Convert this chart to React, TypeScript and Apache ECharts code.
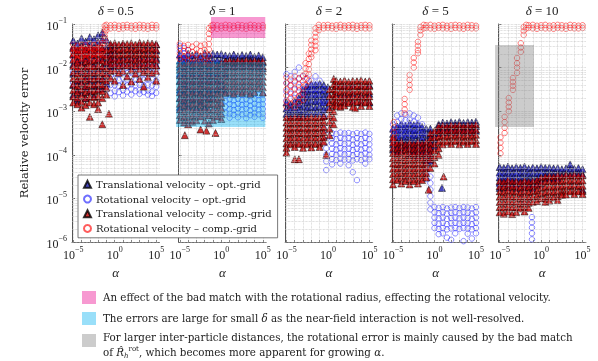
import React, { useEffect, useRef } from "react";
import * as echarts from "echarts";

type Col = [number, number[]];

// x = log10(alpha), y = log10(relative velocity error)
const deltaLabels = ["0.5", "1", "2", "5", "10"];
const seriesNames = [
  "Translational velocity – opt.-grid",
  "Rotational velocity – opt.-grid",
  "Translational velocity – comp.-grid",
  "Rotational velocity – comp.-grid",
];
const xTickExps = [-5, 0, 5];
const xMinorExps = [-5, -4, -3, -2, -1, 0, 1, 2, 3, 4, 5];

// ---------- delta = 0.5 ----------
const p1TransOpt: Col[] = [
  [-5, [-1.38, -1.52, -1.7, -1.92, -2.14, -2.4, -2.62]],
  [-4.5, [-1.45, -1.62, -1.84, -2.05, -2.3, -2.52, -2.75]],
  [-4, [-1.33, -1.48, -1.66, -1.88, -2.1, -2.33, -2.58]],
  [-3.5, [-1.4, -1.58, -1.78, -2.0, -2.22, -2.46, -2.7]],
  [-3, [-1.3, -1.46, -1.64, -1.86, -2.08, -2.3, -2.55]],
  [-2.5, [-1.35, -1.52, -1.72, -1.95, -2.18, -2.42, -2.65]],
  [-2, [-1.26, -1.42, -1.6, -1.82, -2.04, -2.28, -2.5]],
  [-1.5, [-1.2, -1.36, -1.56, -1.78, -2.0, -2.24, -2.48]],
  [-1, [-1.36, -1.52, -1.7, -1.9, -2.12, -2.36]],
  [-0.5, [-1.5, -1.64, -1.8, -1.98]],
  [0, [-1.48, -1.62, -1.78, -1.95]],
  [1, [-1.47, -1.6, -1.76, -1.94]],
  [2, [-1.5, -1.64, -1.8, -1.97]],
  [3, [-1.46, -1.6, -1.77, -1.95]],
  [4, [-1.49, -1.63, -1.79, -1.96]],
  [5, [-1.47, -1.61, -1.78, -1.94]],
];
const p1RotOpt: Col[] = [
  [-5, [-1.6, -1.85, -2.1, -2.35]],
  [-4, [-1.65, -1.9, -2.15, -2.42]],
  [-3, [-1.58, -1.82, -2.08, -2.3]],
  [-2, [-1.62, -1.88, -2.12, -2.38]],
  [-1, [-1.7, -1.95, -2.2, -2.45]],
  [-0.5, [-1.8, -1.98, -2.18, -2.4, -2.58]],
  [0, [-1.85, -1.98, -2.12, -2.26, -2.4, -2.54, -2.66]],
  [0.5, [-1.88, -2.0, -2.14, -2.28, -2.42, -2.56]],
  [1, [-1.84, -1.97, -2.1, -2.24, -2.38, -2.52, -2.64]],
  [1.5, [-1.87, -2.0, -2.13, -2.27, -2.41, -2.55]],
  [2, [-1.83, -1.96, -2.1, -2.24, -2.38, -2.5, -2.62]],
  [2.5, [-1.86, -1.99, -2.12, -2.26, -2.4, -2.54]],
  [3, [-1.84, -1.97, -2.11, -2.25, -2.39, -2.52, -2.6]],
  [3.5, [-1.88, -2.01, -2.14, -2.28, -2.42, -2.56]],
  [4, [-1.85, -1.98, -2.12, -2.26, -2.4, -2.53, -2.62]],
  [4.5, [-1.87, -2.0, -2.13, -2.27, -2.41, -2.55, -2.65]],
  [5, [-1.9, -2.03, -2.16, -2.3, -2.44, -2.58]],
];
const p1TransComp: Col[] = [
  [-5, [-1.55, -1.68, -1.82, -1.96, -2.1, -2.24, -2.38, -2.52, -2.66, -2.8]],
  [-4.5, [-1.6, -1.73, -1.87, -2.0, -2.14, -2.28, -2.42, -2.56, -2.7, -2.84]],
  [-4, [-1.52, -1.66, -1.8, -1.94, -2.08, -2.22, -2.36, -2.5, -2.64, -2.78, -2.92]],
  [-3.5, [-1.58, -1.72, -1.86, -2.0, -2.14, -2.28, -2.42, -2.56, -2.7, -2.86]],
  [-3, [-1.54, -1.68, -1.82, -1.96, -2.1, -2.24, -2.38, -2.52, -2.66, -2.8, -3.13]],
  [-2.5, [-1.57, -1.7, -1.84, -1.98, -2.12, -2.26, -2.4, -2.54, -2.68, -2.84]],
  [-2, [-1.53, -1.67, -1.81, -1.95, -2.09, -2.23, -2.37, -2.51, -2.65, -2.8, -2.95]],
  [-1.5, [-1.56, -1.7, -1.84, -1.98, -2.12, -2.26, -2.4, -2.54, -2.7, -3.3]],
  [-1, [-1.6, -1.74, -1.88, -2.02, -2.16, -2.3, -2.46, -2.62]],
  [-0.7, [-3.06]],
  [-0.5, [-1.46, -1.58, -1.7, -1.82, -1.94, -2.08, -2.24]],
  [0, [-1.44, -1.56, -1.68, -1.8, -1.92, -2.06, -2.3]],
  [0.5, [-1.47, -1.59, -1.71, -1.83, -1.96, -2.12]],
  [1, [-1.45, -1.57, -1.69, -1.81, -1.93, -2.08, -2.4]],
  [1.5, [-1.46, -1.58, -1.7, -1.82, -1.95, -2.2]],
  [2, [-1.44, -1.56, -1.68, -1.8, -1.92, -2.05, -2.32]],
  [2.5, [-1.47, -1.59, -1.71, -1.83, -1.96, -2.14]],
  [3, [-1.43, -1.55, -1.67, -1.79, -1.91, -2.04, -2.26]],
  [3.5, [-1.46, -1.58, -1.7, -1.82, -1.95, -2.1, -2.44]],
  [4, [-1.44, -1.56, -1.68, -1.8, -1.92, -2.06, -2.22]],
  [4.5, [-1.45, -1.57, -1.69, -1.81, -1.94, -2.12]],
  [5, [-1.46, -1.58, -1.7, -1.82, -1.95, -2.08, -2.3]],
];
const p1RotComp: Col[] = [
  [-5, [-1.47, -1.57, -1.67, -1.77]],
  [-4.5, [-1.5, -1.6, -1.7, -1.8, -2.0]],
  [-4, [-1.48, -1.58, -1.68, -1.76]],
  [-3.5, [-1.49, -1.59, -1.69, -1.78]],
  [-3, [-1.46, -1.56, -1.66, -1.75, -1.98]],
  [-2.5, [-1.48, -1.58, -1.68, -1.77]],
  [-2, [-1.45, -1.55, -1.65, -1.74]],
  [-1.5, [-1.44, -1.54, -1.64, -1.72]],
  [-1.2, [-1.04, -1.12, -1.2, -1.28, -1.36, -1.44]],
  [-1, [-1.02, -1.08, -1.14]],
  [-0.5, [-1.03, -1.1]],
  [0, [-1.02, -1.09]],
  [0.5, [-1.04, -1.11]],
  [1, [-1.03, -1.1]],
  [1.5, [-1.02, -1.08]],
  [2, [-1.04, -1.1]],
  [2.5, [-1.03, -1.11]],
  [3, [-1.02, -1.09]],
  [3.5, [-1.03, -1.1]],
  [4, [-1.04, -1.11]],
  [4.5, [-1.02, -1.09]],
  [5, [-1.03, -1.1]],
];

// ---------- delta = 1 ----------
const p2TransOpt: Col[] = [
  [-5, [-1.7, -1.84, -1.98, -2.14, -2.3, -2.5, -2.7, -2.9]],
  [-4.5, [-1.75, -1.88, -2.02, -2.18, -2.36, -2.56, -2.76]],
  [-4, [-1.68, -1.82, -1.96, -2.12, -2.3, -2.48, -2.68, -2.88]],
  [-3.5, [-1.72, -1.86, -2.0, -2.16, -2.34, -2.54, -2.74]],
  [-3, [-1.69, -1.83, -1.97, -2.13, -2.31, -2.5, -2.7, -2.92]],
  [-2.5, [-1.74, -1.88, -2.02, -2.18, -2.36, -2.56, -2.78]],
  [-2, [-1.67, -1.81, -1.95, -2.11, -2.29, -2.48, -2.68, -2.9]],
  [-1.5, [-1.71, -1.85, -1.99, -2.15, -2.33, -2.52, -2.72]],
  [-1, [-1.68, -1.82, -1.96, -2.12, -2.3, -2.5, -2.7]],
  [-0.5, [-1.7, -1.84, -1.98, -2.14, -2.32, -2.5]],
  [0, [-1.69, -1.83, -1.97, -2.13, -2.3, -2.5]],
  [0.3, [-2.5]],
  [0.5, [-1.72, -1.86, -2.0, -2.16]],
  [1, [-1.73, -1.85, -1.98]],
  [1.5, [-1.7, -1.83, -1.96]],
  [2, [-1.74, -1.86, -1.99]],
  [2.5, [-1.71, -1.84, -1.97]],
  [3, [-1.73, -1.85, -1.98]],
  [3.5, [-1.7, -1.82, -1.95]],
  [4, [-1.75, -1.87, -2.0]],
  [4.5, [-1.72, -1.84, -1.97]],
  [5, [-1.76, -1.88, -2.01]],
];
const p2RotOpt: Col[] = [
  [-5, [-1.5, -1.62, -1.76, -2.2, -2.6, -3.0]],
  [-4.5, [-1.55, -1.68, -1.8, -2.4, -2.8]],
  [-4, [-1.6, -1.74, -2.1, -2.5, -2.9]],
  [-3, [-2.2, -2.6, -3.05]],
  [-2, [-2.3, -2.7, -3.1]],
  [-1, [-2.25, -2.65, -3.0]],
  [0, [-2.4, -2.8, -3.1]],
  [0.5, [-2.64, -2.76, -2.9, -3.04]],
  [1, [-2.62, -2.73, -2.84, -2.95, -3.06, -3.15]],
  [1.5, [-2.64, -2.75, -2.86, -2.97, -3.08]],
  [2, [-2.61, -2.72, -2.83, -2.94, -3.05, -3.14]],
  [2.5, [-2.63, -2.74, -2.85, -2.96, -3.07]],
  [3, [-2.62, -2.73, -2.84, -2.95, -3.06, -3.16]],
  [3.5, [-2.65, -2.76, -2.87, -2.98, -3.09]],
  [4, [-2.61, -2.72, -2.83, -2.94, -3.05, -3.13]],
  [4.5, [-2.63, -2.74, -2.85, -2.96, -3.07]],
  [5, [-2.62, -2.73, -2.84, -2.95, -3.06, -3.15]],
];
const p2TransComp: Col[] = [
  [-5, [-1.92, -2.05, -2.18, -2.31, -2.44, -2.57, -2.7, -2.83, -2.96, -3.09, -3.2]],
  [-4.5, [-1.96, -2.09, -2.22, -2.35, -2.48, -2.61, -2.74, -2.87, -3.0, -3.13, -3.26]],
  [-4.4, [-3.55]],
  [-4, [-1.9, -2.03, -2.16, -2.29, -2.42, -2.55, -2.68, -2.81, -2.94, -3.07, -3.2, -3.3]],
  [-3.5, [-1.94, -2.07, -2.2, -2.33, -2.46, -2.59, -2.72, -2.85, -2.98, -3.11, -3.24]],
  [-3, [-1.91, -2.04, -2.17, -2.3, -2.43, -2.56, -2.69, -2.82, -2.95, -3.08, -3.21]],
  [-2.5, [-1.95, -2.08, -2.21, -2.34, -2.47, -2.6, -2.73, -2.86, -2.99, -3.12, -3.42]],
  [-2, [-1.9, -2.03, -2.16, -2.29, -2.42, -2.55, -2.68, -2.81, -2.94, -3.07, -3.22]],
  [-1.8, [-3.45]],
  [-1.5, [-1.93, -2.06, -2.19, -2.32, -2.45, -2.58, -2.71, -2.84, -2.97, -3.1, -3.28]],
  [-1, [-1.92, -2.05, -2.18, -2.31, -2.44, -2.57, -2.7, -2.83, -2.96, -3.09, -3.2]],
  [-0.7, [-3.5]],
  [-0.5, [-1.95, -2.08, -2.21, -2.34, -2.47, -2.6, -2.73, -2.86, -2.99, -3.12]],
  [0, [-1.9, -2.03, -2.16, -2.29, -2.42, -2.55, -2.68, -2.81, -2.94, -3.07, -3.18]],
  [0.5, [-1.86, -1.98, -2.1, -2.22, -2.34, -2.46, -2.58]],
  [1, [-1.84, -1.96, -2.08, -2.2, -2.32, -2.44, -2.56]],
  [1.5, [-1.87, -1.99, -2.11, -2.23, -2.35, -2.47, -2.6]],
  [2, [-1.84, -1.96, -2.08, -2.2, -2.32, -2.44, -2.55]],
  [2.5, [-1.86, -1.98, -2.1, -2.22, -2.34, -2.46, -2.58]],
  [3, [-1.83, -1.95, -2.07, -2.19, -2.31, -2.43, -2.55]],
  [3.5, [-1.86, -1.98, -2.1, -2.22, -2.34, -2.46, -2.6]],
  [4, [-1.84, -1.96, -2.08, -2.2, -2.32, -2.44, -2.56]],
  [4.5, [-1.87, -1.99, -2.11, -2.23, -2.35, -2.47]],
  [5, [-1.85, -1.97, -2.09, -2.21, -2.33, -2.45, -2.57]],
];
const p2RotComp: Col[] = [
  [-5, [-1.45, -1.55, -1.68, -1.8]],
  [-4.5, [-1.5, -1.62, -1.75]],
  [-4, [-1.48, -1.6, -1.72, -1.85]],
  [-3.5, [-1.52, -1.64, -1.78]],
  [-3, [-1.46, -1.58, -1.7, -1.88]],
  [-2.5, [-1.5, -1.62, -1.76]],
  [-2, [-1.47, -1.6, -1.72, -1.85]],
  [-1.5, [-1.1, -1.22, -1.34, -1.46, -1.58, -1.72, -1.88]],
  [-1.2, [-1.04, -1.13]],
  [-1, [-1.02, -1.09]],
  [-0.5, [-1.03, -1.11]],
  [0, [-1.04, -1.1]],
  [0.5, [-1.02, -1.09]],
  [1, [-1.03, -1.11]],
  [1.5, [-1.04, -1.1]],
  [2, [-1.02, -1.08]],
  [2.5, [-1.03, -1.1]],
  [3, [-1.04, -1.11]],
  [3.5, [-1.02, -1.09]],
  [4, [-1.03, -1.1]],
  [4.5, [-1.04, -1.11]],
  [5, [-1.03, -1.09]],
];

// ---------- delta = 2 ----------
const p3TransOpt: Col[] = [
  [-5, [-2.8, -2.94, -3.06]],
  [-4.5, [-2.85, -2.98, -3.1]],
  [-4, [-2.78, -2.92, -3.05]],
  [-3.5, [-2.7, -2.84, -2.98, -3.1]],
  [-3, [-2.5, -2.62, -2.75, -2.88, -3.0, -3.1]],
  [-2.5, [-2.42, -2.54, -2.67, -2.8, -2.93, -3.06]],
  [-2, [-2.38, -2.5, -2.63, -2.76, -2.9, -3.03]],
  [-1.5, [-2.4, -2.52, -2.65, -2.78, -2.92, -3.06]],
  [-1, [-2.37, -2.5, -2.62, -2.75, -2.88, -3.02]],
  [-0.5, [-2.4, -2.53, -2.66, -2.8, -2.95, -3.1]],
  [0, [-2.45, -2.6, -2.75, -2.9]],
  [1, [-2.4, -2.6, -2.8]],
  [2, [-2.42, -2.62, -2.8]],
  [3, [-2.4, -2.6, -2.78]],
  [4, [-2.43, -2.63, -2.8]],
  [5, [-2.4, -2.6, -2.8]],
];
const p3RotOpt: Col[] = [
  [-5, [-2.15, -2.35, -2.55, -2.75]],
  [-4.5, [-2.2, -2.4, -2.6]],
  [-4, [-2.1, -2.3, -2.5, -2.7]],
  [-3.5, [-2.0, -2.25, -2.45, -2.65]],
  [-3, [-2.2, -2.4, -2.6]],
  [-2.5, [-2.25, -2.45]],
  [-2, [-2.3, -2.5]],
  [-1.5, [-2.2, -2.4, -2.6]],
  [-1, [-2.3, -2.55, -2.8]],
  [-0.5, [-2.5, -2.8, -3.1, -3.4]],
  [-0.2, [-3.55, -3.7, -3.85, -4.0, -4.15, -4.35]],
  [0.5, [-3.5, -3.62, -3.74, -3.86, -3.98, -4.1, -4.22]],
  [1, [-3.52, -3.64, -3.76, -3.88, -4.0, -4.12]],
  [1.5, [-3.49, -3.61, -3.73, -3.85, -3.97, -4.09, -4.2]],
  [2, [-3.51, -3.63, -3.75, -3.87, -3.99, -4.11]],
  [2.5, [-3.5, -3.62, -3.74, -3.86, -3.98, -4.1, -4.24]],
  [3, [-3.53, -3.65, -3.77, -3.89, -4.01, -4.13, -4.4]],
  [3.5, [-3.5, -3.62, -3.74, -3.86, -3.98, -4.1, -4.58]],
  [4, [-3.52, -3.64, -3.76, -3.88, -4.0, -4.12]],
  [4.5, [-3.49, -3.61, -3.73, -3.85, -3.97, -4.09, -4.2]],
  [5, [-3.52, -3.64, -3.76, -3.88, -4.0, -4.1]],
];
const p3TransComp: Col[] = [
  [-5, [-3.14, -3.26, -3.38, -3.5, -3.62, -3.74, -3.84, -3.95]],
  [-4.5, [-3.16, -3.28, -3.4, -3.52, -3.64, -3.76]],
  [-4, [-3.13, -3.25, -3.37, -3.49, -3.61, -3.73, -3.82, -4.1]],
  [-3.5, [-3.15, -3.27, -3.39, -3.51, -3.63, -3.75, -4.1]],
  [-3, [-3.14, -3.26, -3.38, -3.5, -3.62, -3.74, -3.84]],
  [-2.5, [-3.16, -3.28, -3.4, -3.52, -3.64, -3.76]],
  [-2, [-3.13, -3.25, -3.37, -3.49, -3.61, -3.73, -3.83]],
  [-1.5, [-3.15, -3.27, -3.39, -3.51, -3.63, -3.75]],
  [-1, [-3.14, -3.26, -3.38, -3.5, -3.62, -3.74, -3.82]],
  [-0.5, [-3.12, -3.24, -3.36, -3.48, -3.6, -3.7]],
  [-0.2, [-4.0]],
  [0.2, [-2.5, -2.65, -2.8, -2.95, -3.1, -3.25, -3.4, -3.55]],
  [0.7, [-2.26, -2.38, -2.5, -2.62, -2.74, -2.86, -3.0, -3.15, -3.3]],
  [1, [-2.3, -2.42, -2.54, -2.66, -2.78, -2.88]],
  [1.5, [-2.32, -2.44, -2.56, -2.68, -2.8, -2.9]],
  [2, [-2.29, -2.41, -2.53, -2.65, -2.77, -2.87]],
  [2.5, [-2.33, -2.45, -2.57, -2.69, -2.81]],
  [3, [-2.3, -2.42, -2.54, -2.66, -2.78, -2.9]],
  [3.3, [-2.93]],
  [3.5, [-2.31, -2.43, -2.55, -2.67, -2.79]],
  [4, [-2.29, -2.41, -2.53, -2.65, -2.77, -2.88]],
  [4.5, [-2.32, -2.44, -2.56, -2.68, -2.8]],
  [5, [-2.3, -2.42, -2.54, -2.66, -2.78, -2.88]],
];
const p3RotComp: Col[] = [
  [-5, [-2.22, -2.36, -2.5, -2.64, -2.78, -2.9]],
  [-4.5, [-2.28, -2.42, -2.56, -2.7, -2.84]],
  [-4, [-2.2, -2.34, -2.48, -2.62, -2.76, -2.9]],
  [-3.5, [-2.25, -2.39, -2.53, -2.67, -2.8]],
  [-3, [-2.18, -2.32, -2.46, -2.6, -2.74]],
  [-2.7, [-1.9, -2.02, -2.14, -2.26, -2.4]],
  [-2.3, [-1.68, -1.8, -1.92, -2.04, -2.16, -2.3]],
  [-2, [-1.38, -1.48, -1.58, -1.68, -1.76]],
  [-1.5, [-1.1, -1.2, -1.3, -1.4, -1.5, -1.6]],
  [-1.1, [-1.02, -1.08, -1.14]],
  [-0.5, [-1.03, -1.1]],
  [0, [-1.02, -1.09]],
  [0.5, [-1.04, -1.1]],
  [1, [-1.03, -1.11]],
  [1.5, [-1.02, -1.08]],
  [2, [-1.04, -1.1]],
  [2.5, [-1.03, -1.09]],
  [3, [-1.02, -1.1]],
  [3.5, [-1.04, -1.11]],
  [4, [-1.03, -1.09]],
  [4.5, [-1.02, -1.1]],
  [5, [-1.03, -1.1]],
];

// ---------- delta = 5 ----------
const p4TransOpt: Col[] = [
  [-5, [-3.4, -3.52, -3.64, -3.76, -3.88]],
  [-4.5, [-3.35, -3.47, -3.59, -3.71, -3.83, -3.95]],
  [-4, [-3.3, -3.42, -3.54, -3.66, -3.78, -3.9]],
  [-3.5, [-3.34, -3.46, -3.58, -3.7, -3.82]],
  [-3, [-3.28, -3.4, -3.52, -3.64, -3.76, -3.88, -4.0]],
  [-2.5, [-3.32, -3.44, -3.56, -3.68, -3.8, -3.92]],
  [-2, [-3.3, -3.42, -3.54, -3.66, -3.78, -3.9, -4.02]],
  [-1.5, [-3.36, -3.48, -3.6, -3.72, -3.84, -3.96]],
  [-1, [-3.4, -3.52, -3.64, -3.76, -3.88, -4.0, -4.12]],
  [-0.5, [-3.4, -3.55, -3.7, -3.85, -4.0, -4.15]],
  [0, [-3.5, -3.65, -3.8]],
  [0.9, [-4.76]],
  [0.5, [-3.3, -3.4, -3.5]],
  [1, [-3.26, -3.36, -3.47]],
  [1.5, [-3.28, -3.38, -3.48]],
  [2, [-3.25, -3.35, -3.46]],
  [2.5, [-3.27, -3.37, -3.48]],
  [3, [-3.24, -3.34, -3.45]],
  [3.5, [-3.27, -3.37, -3.47]],
  [4, [-3.25, -3.35, -3.46]],
  [4.5, [-3.26, -3.36, -3.48]],
  [5, [-3.24, -3.34, -3.45]],
];
const p4RotOpt: Col[] = [
  [-5, [-3.3, -3.45]],
  [-4.5, [-3.1, -3.25, -3.4, -3.55]],
  [-4, [-3.05, -3.18, -3.32, -3.46, -3.6]],
  [-3.5, [-3.08, -3.2, -3.35, -3.5]],
  [-3, [-3.05, -3.2, -3.36, -3.52]],
  [-2.5, [-3.1, -3.24, -3.4, -3.56]],
  [-2, [-3.15, -3.3, -3.45]],
  [-1.5, [-3.3, -3.5, -3.7, -3.9]],
  [-1, [-3.95, -4.1, -4.25, -4.4, -4.55]],
  [-0.5, [-4.5, -4.65, -4.8, -4.95, -5.1, -5.25]],
  [0, [-5.2, -5.32, -5.44, -5.56, -5.68]],
  [0.5, [-5.22, -5.34, -5.46, -5.58, -5.7, -5.82]],
  [1, [-5.2, -5.32, -5.44, -5.56, -5.68, -5.8]],
  [1.5, [-5.23, -5.35, -5.47, -5.59, -5.71, -5.9]],
  [2, [-5.21, -5.33, -5.45, -5.57, -5.69, -5.95]],
  [2.5, [-5.2, -5.32, -5.44, -5.56, -5.68, -5.8]],
  [3, [-5.22, -5.34, -5.46, -5.58, -5.7]],
  [3.5, [-5.2, -5.32, -5.44, -5.56, -5.68, -5.98]],
  [4, [-5.21, -5.33, -5.45, -5.57, -5.69, -5.81]],
  [4.5, [-5.23, -5.35, -5.47, -5.59, -5.71, -5.92]],
  [5, [-5.2, -5.32, -5.44, -5.56, -5.68, -5.8]],
];
const p4TransComp: Col[] = [
  [-5, [-3.6, -3.72, -3.84, -3.96, -4.08, -4.2, -4.32, -4.44, -4.56, -4.68]],
  [-4.5, [-3.74, -3.86, -3.98, -4.1, -4.22, -4.34, -4.46, -4.58]],
  [-4, [-3.7, -3.82, -3.94, -4.06, -4.18, -4.3, -4.42, -4.54, -4.66]],
  [-3.5, [-3.76, -3.88, -4.0, -4.12, -4.24, -4.36, -4.48, -4.6]],
  [-3, [-3.72, -3.84, -3.96, -4.08, -4.2, -4.32, -4.44, -4.56, -4.68]],
  [-2.5, [-3.75, -3.87, -3.99, -4.11, -4.23, -4.35, -4.47, -4.6]],
  [-2, [-3.71, -3.83, -3.95, -4.07, -4.19, -4.31, -4.43, -4.55, -4.66]],
  [-1.5, [-3.74, -3.86, -3.98, -4.1, -4.22, -4.34, -4.46, -4.58]],
  [-1, [-3.7, -3.82, -3.94, -4.06, -4.18, -4.3, -4.42, -4.52]],
  [-0.7, [-4.8]],
  [-0.5, [-3.5, -3.62, -3.74, -3.86, -3.98, -4.1, -4.3]],
  [0, [-3.45, -3.6, -3.75, -3.9, -4.05, -4.2]],
  [0.5, [-3.34, -3.46, -3.58, -3.7, -3.85, -4.0]],
  [1, [-3.32, -3.44, -3.56, -3.68, -3.76]],
  [1.1, [-4.5]],
  [1.5, [-3.34, -3.46, -3.58, -3.7]],
  [2, [-3.31, -3.43, -3.55, -3.67, -3.75]],
  [2.5, [-3.33, -3.45, -3.57, -3.69]],
  [3, [-3.3, -3.42, -3.54, -3.66, -3.76]],
  [3.5, [-3.34, -3.46, -3.58, -3.7]],
  [4, [-3.31, -3.43, -3.55, -3.67, -3.75]],
  [4.5, [-3.33, -3.45, -3.57, -3.69]],
  [5, [-3.3, -3.42, -3.54, -3.66, -3.75]],
];
const p4RotComp: Col[] = [
  [-4.9, [-3.25, -3.37, -3.49, -3.61, -3.73]],
  [-3.6, [-2.72, -2.84, -2.96, -3.05]],
  [-3, [-2.17, -2.28, -2.4, -2.51]],
  [-2.5, [-1.78, -1.88, -2.0]],
  [-2, [-1.41, -1.5, -1.6, -1.67]],
  [-1.7, [-1.07, -1.15, -1.25]],
  [-1.3, [-1.02, -1.1]],
  [-1, [-1.03, -1.09]],
  [-0.5, [-1.02, -1.1]],
  [0, [-1.04, -1.11]],
  [0.5, [-1.03, -1.09]],
  [1, [-1.02, -1.1]],
  [1.5, [-1.04, -1.1]],
  [2, [-1.03, -1.11]],
  [2.5, [-1.02, -1.09]],
  [3, [-1.03, -1.1]],
  [3.5, [-1.04, -1.11]],
  [4, [-1.02, -1.09]],
  [4.5, [-1.03, -1.1]],
  [5, [-1.04, -1.1]],
];

// ---------- delta = 10 ----------
const p5TransOpt: Col[] = [
  [-5, [-4.28, -4.4, -4.52, -4.64, -4.76]],
  [-4.5, [-4.3, -4.42, -4.54, -4.66]],
  [-4, [-4.27, -4.39, -4.51, -4.63, -4.75]],
  [-3.5, [-4.31, -4.43, -4.55, -4.67]],
  [-3, [-4.28, -4.4, -4.52, -4.64, -4.76]],
  [-2.5, [-4.3, -4.42, -4.54, -4.66]],
  [-2, [-4.27, -4.39, -4.51, -4.63, -4.75]],
  [-1.5, [-4.32, -4.44, -4.56, -4.68]],
  [-1, [-4.29, -4.41, -4.53, -4.65, -4.77]],
  [-0.5, [-4.31, -4.43, -4.55, -4.67]],
  [0, [-4.28, -4.4, -4.52, -4.64]],
  [0.5, [-4.3, -4.42, -4.54]],
  [1, [-4.29, -4.41, -4.53]],
  [1.5, [-4.31, -4.43, -4.55]],
  [2, [-4.3, -4.42, -4.54]],
  [2.5, [-4.33, -4.45]],
  [3, [-4.31, -4.43]],
  [3.5, [-4.22, -4.34, -4.46]],
  [4, [-4.32, -4.44]],
  [4.5, [-4.3, -4.42]],
  [5, [-4.33, -4.45, -4.8]],
];
const p5RotOpt: Col[] = [
  [-5, [-4.5, -4.7]],
  [-4, [-4.55, -4.75]],
  [-3, [-4.5, -4.7]],
  [-2.4, [-4.88]],
  [-1.8, [-5.1]],
  [-1.1, [-5.43, -5.55, -5.67, -5.8, -5.94]],
  [0, [-4.5, -4.7]],
  [2, [-4.55, -4.72]],
  [4, [-4.5, -4.7]],
];
const p5TransComp: Col[] = [
  [-5, [-4.6, -4.72, -4.84, -4.96, -5.08, -5.2, -5.32]],
  [-4.5, [-4.62, -4.74, -4.86, -4.98, -5.1, -5.22, -5.35]],
  [-4, [-4.58, -4.7, -4.82, -4.94, -5.06, -5.18, -5.3]],
  [-3.5, [-4.61, -4.73, -4.85, -4.97, -5.09, -5.21, -5.36]],
  [-3, [-4.6, -4.72, -4.84, -4.96, -5.08, -5.2, -5.31]],
  [-2.5, [-4.63, -4.75, -4.87, -4.99, -5.11, -5.23]],
  [-2, [-4.59, -4.71, -4.83, -4.95, -5.07, -5.19, -5.3]],
  [-1.5, [-4.62, -4.74, -4.86, -4.98, -5.1, -5.22]],
  [-1, [-4.6, -4.72, -4.84, -4.96, -5.08]],
  [-0.5, [-4.58, -4.7, -4.82, -4.94, -5.06]],
  [0, [-4.52, -4.64, -4.76, -4.88, -5.0]],
  [0.5, [-4.5, -4.62, -4.74, -4.86, -4.98, -5.08]],
  [1, [-4.48, -4.6, -4.72, -4.84, -4.96, -5.05]],
  [1.5, [-4.5, -4.62, -4.74, -4.86, -4.98]],
  [2, [-4.47, -4.59, -4.71, -4.83, -4.95, -5.04]],
  [2.5, [-4.49, -4.61, -4.73, -4.85, -4.92]],
  [3, [-4.46, -4.58, -4.7, -4.82, -4.91]],
  [3.5, [-4.48, -4.6, -4.72, -4.84]],
  [4, [-4.46, -4.58, -4.7, -4.82, -4.9]],
  [4.5, [-4.48, -4.6, -4.72, -4.84]],
  [5, [-4.47, -4.59, -4.71, -4.83, -4.9]],
];
const p5RotComp: Col[] = [
  [-4.9, [-3.6, -3.72, -3.84, -3.97]],
  [-4.4, [-3.13, -3.25, -3.38, -3.5]],
  [-3.9, [-2.7, -2.8, -2.9, -3.0]],
  [-3.4, [-2.24, -2.33, -2.42, -2.51]],
  [-2.9, [-1.78, -1.9, -2.0, -2.12]],
  [-2.45, [-1.44, -1.54, -1.64]],
  [-2.1, [-1.07, -1.16, -1.25]],
  [-1.8, [-1.02, -1.1]],
  [-1.5, [-1.03, -1.09]],
  [-1, [-1.02, -1.1]],
  [-0.5, [-1.04, -1.11]],
  [0, [-1.03, -1.09]],
  [0.5, [-1.02, -1.1]],
  [1, [-1.04, -1.1]],
  [1.5, [-1.03, -1.11]],
  [2, [-1.02, -1.09]],
  [2.5, [-1.03, -1.1]],
  [3, [-1.04, -1.11]],
  [3.5, [-1.02, -1.09]],
  [4, [-1.03, -1.1]],
  [4.5, [-1.04, -1.1]],
  [5, [-1.03, -1.09]],
];

const panelSets: Col[][][] = [
  [p1TransOpt, p1RotOpt, p1TransComp, p1RotComp],
  [p2TransOpt, p2RotOpt, p2TransComp, p2RotComp],
  [p3TransOpt, p3RotOpt, p3TransComp, p3RotComp],
  [p4TransOpt, p4RotOpt, p4TransComp, p4RotComp],
  [p5TransOpt, p5RotOpt, p5TransComp, p5RotComp],
];

// highlighted regions: panel index, x range (log10 alpha), y range (log10 error)
const highlightPanels = [1, 1, 4];
const highlightX: [number, number][] = [[-1.25, 5.3], [-5.45, 5.3], [-5.55, -0.86]];
const highlightY: [number, number][] = [[-0.84, -1.32], [-1.87, -3.36], [-1.48, -3.36]];
const highlightColors = ["rgba(236,0,140,0.4)", "rgba(0,174,239,0.4)", "rgba(128,128,128,0.4)"];

const noteTexts = [
  "An effect of the bad match with the rotational radius, effecting the rotational velocity.",
  "The errors are large for small {i|δ} as the near-field interaction is not well-resolved.",
  "For larger inter-particle distances, the rotational error is mainly caused by the bad match",
  "of {i|R̂}{sub|h}{sup|rot}, which becomes more apparent for growing {i|α}.",
];

const FONT = "'Liberation Serif', serif";
const FONT2 = "'DejaVu Serif', serif";

const seriesStyles = [
  { symbol: "triangle", symbolSize: 7, itemStyle: { color: "#1c1cb0", borderColor: "#000", borderWidth: 0.6 } },
  { symbol: "circle", symbolSize: 5.5, itemStyle: { color: "rgba(0,0,0,0)", borderColor: "rgba(30,30,255,0.8)", borderWidth: 0.8 } },
  { symbol: "triangle", symbolSize: 7, itemStyle: { color: "#c40000", borderColor: "#000", borderWidth: 0.6 } },
  { symbol: "circle", symbolSize: 5.5, itemStyle: { color: "rgba(0,0,0,0)", borderColor: "rgba(255,0,0,0.8)", borderWidth: 0.8 } },
];

const toPoints = (cols: Col[]) => cols.flatMap(([x, ys]) => ys.map((y) => [x, y]));

const expLabel = (v: number) => `{b|10}{s|${v < 0 ? "−" : ""}${Math.abs(v)}}`;
const expRich = {
  b: { fontSize: 12, fontFamily: FONT, color: "#222", lineHeight: 16, verticalAlign: "bottom" },
  s: { fontSize: 8, fontFamily: FONT, color: "#222", lineHeight: 8, verticalAlign: "top" },
};

export default function App() {
  const ref = useRef<HTMLDivElement>(null);
  useEffect(() => {
    if (!ref.current) return;
    const chart = echarts.init(ref.current, undefined, { renderer: "svg" });
    const left0 = 72;
    const step = 106.6;
    const gw = 87.5;
    const top = 24;
    const gh = 218;

    const hLines: number[] = [];
    for (let n = -6; n <= -2; n++) for (let k = 1; k <= 9; k++) hLines.push(n + Math.log10(k));
    hLines.push(-1);

    const grids = deltaLabels.map((_, i) => ({ left: left0 + i * step, top, width: gw, height: gh }));
    const xAxes = deltaLabels.map((_, i) => ({
      type: "value",
      gridIndex: i,
      min: -5.15,
      max: 5.4,
      name: "α",
      nameLocation: "middle",
      nameGap: 22,
      nameTextStyle: { fontFamily: FONT, fontSize: 13, fontStyle: "italic", color: "#222" },
      axisLine: { show: true, onZero: false, lineStyle: { color: "#555", width: 1 } },
      axisTick: { show: true, inside: true, length: 2, customValues: xMinorExps, lineStyle: { color: "#555" } },
      axisLabel: { show: true, customValues: xTickExps, formatter: expLabel, rich: expRich, margin: 3 },
      splitLine: { show: false },
    }));
    const yAxes = deltaLabels.map((_, i) => ({
      type: "value",
      gridIndex: i,
      min: -6,
      max: -1,
      interval: 1,
      name: i === 0 ? "Relative velocity error" : "",
      nameLocation: "middle",
      nameGap: 42,
      nameTextStyle: { fontFamily: FONT2, fontSize: 11.5, color: "#222" },
      axisLine: { show: true, onZero: false, lineStyle: { color: "#555", width: 1 } },
      axisTick: { show: true, inside: true, length: 3, lineStyle: { color: "#555" } },
      axisLabel: { show: i === 0, formatter: expLabel, rich: expRich, margin: 5 },
      splitLine: { show: false },
    }));

    const series: any[] = [];
    panelSets.forEach((sets, i) => {
      series.push({
        type: "scatter",
        xAxisIndex: i,
        yAxisIndex: i,
        data: [],
        silent: true,
        markLine: {
          silent: true,
          symbol: ["none", "none"],
          label: { show: false },
          animation: false,
          lineStyle: { type: "dotted", color: "#c4c4c4", width: 0.7 },
          data: [...hLines.map((v) => ({ yAxis: v })), ...xMinorExps.map((v) => ({ xAxis: v }))],
        },
      });
      sets.forEach((cols, s) => {
        series.push({
          type: "scatter",
          name: seriesNames[s],
          xAxisIndex: i,
          yAxisIndex: i,
          data: toPoints(cols),
          silent: true,
          clip: false,
          ...seriesStyles[s],
        });
      });
    });

    chart.setOption({
      animation: false,
      grid: grids,
      xAxis: xAxes,
      yAxis: yAxes,
      series,
      legend: {
        data: seriesNames,
        orient: "vertical",
        left: 78,
        top: 175,
        selectedMode: false,
        backgroundColor: "#fff",
        borderColor: "#555",
        borderWidth: 0.8,
        borderRadius: 0,
        padding: [3, 6, 3, 5],
        itemGap: 2,
        itemWidth: 7,
        itemHeight: 7,
        textStyle: { fontFamily: FONT2, fontSize: 10, color: "#222", lineHeight: 12.7 },
        z: 10,
      },
    });

    const graphics: any[] = [];
    highlightPanels.forEach((p, k) => {
      const a = chart.convertToPixel({ gridIndex: p } as any, [highlightX[k][0], highlightY[k][0]]) as number[];
      const b = chart.convertToPixel({ gridIndex: p } as any, [highlightX[k][1], highlightY[k][1]]) as number[];
      graphics.push({
        type: "rect",
        z: 5,
        silent: true,
        shape: { x: Math.min(a[0], b[0]), y: Math.min(a[1], b[1]), width: Math.abs(b[0] - a[0]), height: Math.abs(b[1] - a[1]) },
        style: { fill: highlightColors[k] },
      });
    });
    deltaLabels.forEach((d, i) => {
      graphics.push({
        type: "text",
        x: left0 + i * step + gw / 2,
        y: 10,
        style: {
          text: `{i|δ} = ${d}`,
          font: `13px ${FONT}`,
          fill: "#222",
          align: "center",
          verticalAlign: "middle",
          rich: { i: { fontStyle: "italic", fontSize: 13, fontFamily: FONT } },
        },
      });
    });
    const swatchY = [291, 312, 334];
    swatchY.forEach((y, k) => {
      graphics.push({ type: "rect", shape: { x: 82, y, width: 14, height: 13 }, style: { fill: highlightColors[k] } });
    });
    const noteY = [297, 318, 337, 352];
    noteTexts.forEach((t, k) => {
      graphics.push({
        type: "text",
        x: 103,
        y: noteY[k],
        style: {
          text: t,
          font: `10.3px ${FONT2}`,
          fill: "#222",
          verticalAlign: "middle",
          rich: {
            i: { fontStyle: "italic", fontSize: 10.3, fontFamily: FONT2, lineHeight: 14, verticalAlign: "middle" },
            sub: { fontStyle: "italic", fontSize: 7, fontFamily: FONT2, lineHeight: 14, verticalAlign: "bottom" },
            sup: { fontSize: 7, fontFamily: FONT2, lineHeight: 14, verticalAlign: "top" },
          },
        },
      });
    });
    chart.setOption({ graphic: { elements: graphics } });

    return () => chart.dispose();
  }, []);
  return <div ref={ref} style={{ position: "fixed", left: 0, top: 0, width: 598, height: 361 }} />;
}
